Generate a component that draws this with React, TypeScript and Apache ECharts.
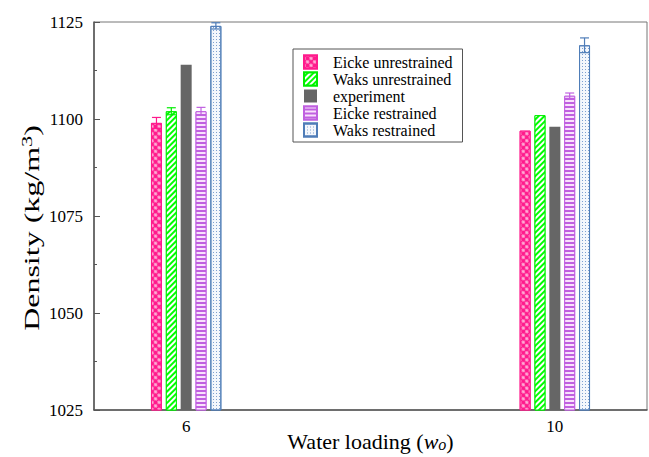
import React, { useEffect, useRef } from "react";
import * as echarts from "echarts";

const waterLoading = [6, 10];
const seriesNames = [
  "Eicke unrestrained",
  "Waks unrestrained",
  "experiment",
  "Eicke restrained",
  "Waks restrained",
];
const eickeUnrestrained = [1099, 1097];
const eickeUnrestrainedErr = [1.4, 0];
const waksUnrestrained = [1102, 1101];
const waksUnrestrainedErr = [0.9, 0];
const experiment = [1114, 1098];
const experimentErr = [0, 0];
const eickeRestrained = [1102, 1106];
const eickeRestrainedErr = [1.0, 0.7];
const waksRestrained = [1124, 1119];
const waksRestrainedErr = [0.8, 1.9];
const yTicks = [1025, 1050, 1075, 1100, 1125];
const xTickLabels = [6, 10];
const yTitle = "Density (kg/m{sup|3})";
const xTitle = "Water loading ({it|w}{sub|o})";

const values = [eickeUnrestrained, waksUnrestrained, experiment, eickeRestrained, waksRestrained];
const errors = [eickeUnrestrainedErr, waksUnrestrainedErr, experimentErr, eickeRestrainedErr, waksRestrainedErr];

const BAR_W = 11;
const BAR_GAP = 0.35;
const STEP = BAR_W * (1 + BAR_GAP);
const FONT = "Liberation Serif";

const mainColors = ["#ff1a8c", "#00ee00", "#666666", "#c060e0", "#4f7db8"];
const fillColors = ["#ff1a8c", "#00ff00", "#666666", "#c060e0", "#f4f7fc"];
const decals: any[] = [
  {
    symbol: "path://M2,0 L3,0 L3,2 L5,2 L5,3 L3,3 L3,5 L2,5 L2,3 L0,3 L0,2 L2,2 Z",
    symbolSize: 1,
    color: "rgba(255,255,255,0.9)",
    dashArrayX: [4, 1],
    dashArrayY: [4, 1],
    rotation: Math.PI / 4,
  },
  {
    symbol: "rect",
    symbolSize: 1,
    color: "#ffffff",
    dashArrayX: [1, 0],
    dashArrayY: [2, 2],
    rotation: -Math.PI / 4,
  },
  null,
  {
    symbol: "rect",
    symbolSize: 1,
    color: "rgba(255,240,255,0.9)",
    dashArrayX: [1, 0],
    dashArrayY: [2, 2],
    rotation: 0,
  },
  {
    symbol: "rect",
    symbolSize: 1,
    color: "#7ea0d0",
    dashArrayX: [1, 2],
    dashArrayY: [1, 2],
    rotation: 0,
  },
];

export default function App() {
  const ref = useRef<HTMLDivElement>(null);
  useEffect(() => {
    if (!ref.current) return;
    const chart = echarts.init(ref.current, null, { renderer: "svg" });
    const barSeries = seriesNames.map((name, i) => ({
      name,
      type: "bar",
      barWidth: BAR_W,
      barGap: `${BAR_GAP * 100}%`,
      data: waterLoading.map((x, j) => [x, values[i][j]]),
      itemStyle: {
        color: fillColors[i],
        borderColor: mainColors[i],
        borderWidth: i === 2 ? 0 : 1,
        decal: decals[i] || undefined,
      },
      z: 2,
    }));
    const errSeries = seriesNames.map((name, i) => ({
      name: name + " err",
      type: "custom",
      data: waterLoading.map((x, j) => [x, values[i][j], errors[i][j]]),
      z: 5,
      silent: true,
      renderItem: (params: any, api: any) => {
        const x = api.value(0);
        const y = api.value(1);
        const e = api.value(2);
        if (!e) return null;
        const top = api.coord([x, y + e]);
        const bot = api.coord([x, y - e]);
        const cx = top[0] + (i - 2) * STEP;
        const half = 4.5;
        const style = { stroke: mainColors[i], lineWidth: 1.2 };
        return {
          type: "group",
          children: [
            { type: "line", shape: { x1: cx, y1: top[1], x2: cx, y2: bot[1] }, style },
            { type: "line", shape: { x1: cx - half, y1: top[1], x2: cx + half, y2: top[1] }, style },
            { type: "line", shape: { x1: cx - half, y1: bot[1], x2: cx + half, y2: bot[1] }, style },
          ],
        };
      },
    }));
    chart.setOption({
      animation: false,
      backgroundColor: "#ffffff",
      textStyle: { fontFamily: FONT },
      grid: {
        left: 94,
        right: 2,
        top: 22,
        bottom: 47,
        outerBoundsMode: "none",
        containLabel: false,
        show: true,
        borderColor: "#777",
        borderWidth: 1,
      },
      legend: {
        data: seriesNames,
        orient: "vertical",
        left: 293,
        top: 49,
        padding: [5, 10, 4, 10],
        itemGap: 1,
        itemWidth: 13,
        itemHeight: 13,
        icon: "rect",
        borderColor: "#555",
        borderWidth: 1,
        backgroundColor: "#fff",
        textStyle: { fontFamily: FONT, fontSize: 16, color: "#000", padding: [0, 0, 0, 11] },
      },
      graphic: [
        {
          type: "text",
          x: 32,
          y: 228,
          rotation: Math.PI / 2,
          scaleX: 1.6,
          style: {
            text: yTitle,
            fontFamily: FONT,
            fontWeight: "normal",
            fontSize: 20,
            fill: "#000",
            align: "center",
            verticalAlign: "middle",
            rich: {
              sup: { fontFamily: FONT, fontWeight: "normal", fontSize: 14, fill: "#000", verticalAlign: "top", padding: [0, 0, 9, 0] },
            },
          },
        },
      ],
      xAxis: {
        type: "value",
        min: 5,
        max: 11,
        interval: 1,
        splitLine: { show: false },
        axisLine: { show: true, lineStyle: { color: "#555", width: 1.5 } },
        axisTick: { show: false },
        axisLabel: {
          color: "#000",
          fontFamily: FONT,
          fontSize: 17,
          margin: 8,
          formatter: (v: number) => (xTickLabels.includes(v) ? String(v) : ""),
        },
        name: xTitle,
        nameLocation: "middle",
        nameGap: 20,
        nameMoveOverlap: false,
        nameTextStyle: {
          fontFamily: FONT,
          fontSize: 22,
          color: "#000",
          rich: {
            it: { fontFamily: FONT, fontSize: 22, fontStyle: "italic", color: "#000" },
            sub: { fontFamily: FONT, fontSize: 16, fontStyle: "italic", color: "#000", verticalAlign: "bottom", padding: [6, 0, 0, 0] },
          },
        },
      },
      yAxis: {
        type: "value",
        min: yTicks[0],
        max: yTicks[yTicks.length - 1],
        interval: 25,
        splitLine: { show: false },
        axisLine: { show: true, lineStyle: { color: "#555", width: 1.5 } },
        axisTick: { show: true, inside: true, length: 6, lineStyle: { color: "#555" } },
        minorTick: { show: true, splitNumber: 2, length: 3, lineStyle: { color: "#555" } },
        axisLabel: { color: "#000", fontFamily: FONT, fontSize: 17, margin: 11, formatter: (v: number) => String(v) },
      },
      series: [...barSeries, ...errSeries],
    });
    return () => chart.dispose();
  }, []);
  return (
    <div
      ref={ref}
      style={{ position: "fixed", left: 0, top: 0, width: 649, height: 457, background: "#fff" }}
    />
  );
}
